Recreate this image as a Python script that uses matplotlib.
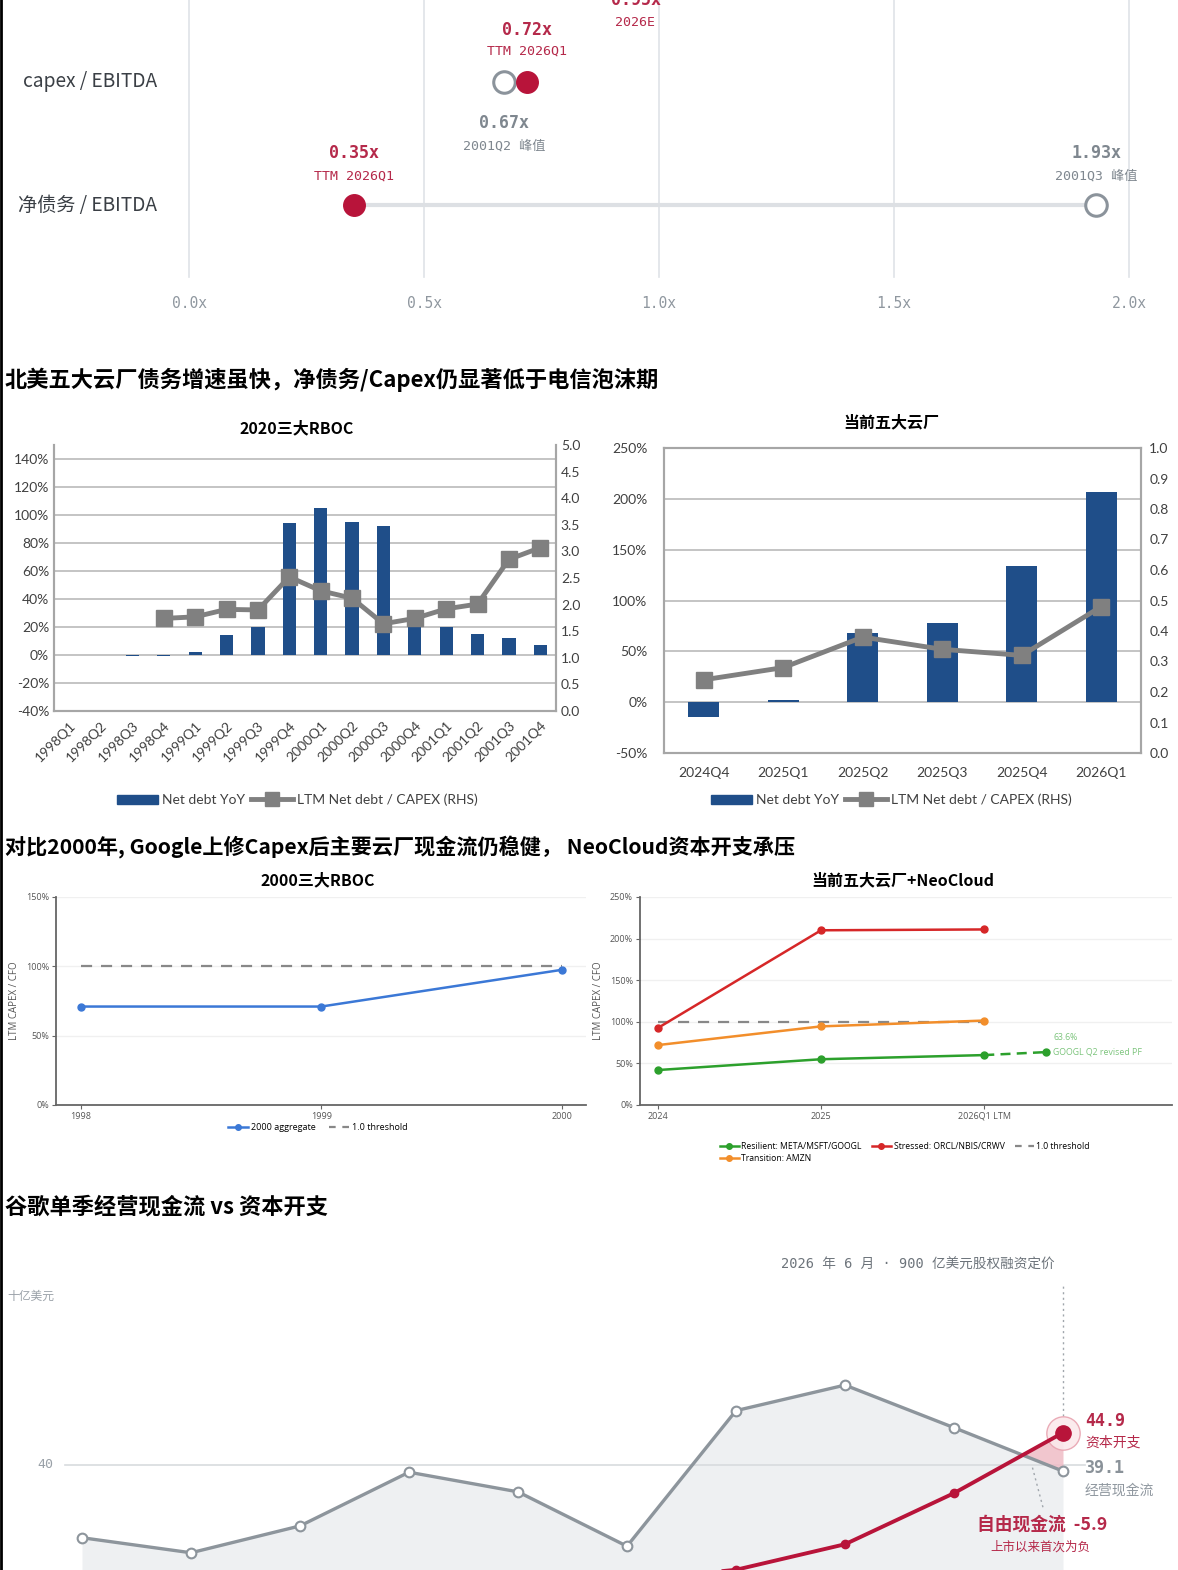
import matplotlib
matplotlib.use('Agg')
import matplotlib.pyplot as plt
import numpy as np
from matplotlib.lines import Line2D
from matplotlib.patches import Patch
from matplotlib.transforms import blended_transform_factory

# ---------------- data ----------------
# panel 1: leverage ratios
ratio_rows = ['capex / EBITDA', '净债务 / EBITDA']
ratio_now = [0.72, 0.35]
ratio_now_label = ['TTM 2026Q1', 'TTM 2026Q1']
ratio_peak = [0.67, 1.93]
ratio_peak_label = ['2001Q2 峰值', '2001Q3 峰值']
capex_ebitda_2026e = 0.95
ratio_ticks = [0.0, 0.5, 1.0, 1.5, 2.0]

# panel 2: 2020三大RBOC
rboc_q = ['1998Q1', '1998Q2', '1998Q3', '1998Q4', '1999Q1', '1999Q2', '1999Q3', '1999Q4',
          '2000Q1', '2000Q2', '2000Q3', '2000Q4', '2001Q1', '2001Q2', '2001Q3', '2001Q4']
rboc_debt_yoy = [0, 0, -0.6, -0.6, 2, 14, 20, 94, 105, 95, 92, 20, 20, 15, 12, 7]
rboc_nd_capex = [np.nan, np.nan, np.nan, 1.74, 1.77, 1.91, 1.90, 2.52, 2.26, 2.12,
                 1.64, 1.74, 1.92, 2.01, 2.85, 3.07]

# panel 3: 当前五大云厂
cloud_q = ['2024Q4', '2025Q1', '2025Q2', '2025Q3', '2025Q4', '2026Q1']
cloud_debt_yoy = [-15, 2, 68, 78, 134, 207]
cloud_nd_capex = [0.24, 0.28, 0.38, 0.34, 0.32, 0.48]

# panel 4: 2000三大RBOC capex/CFO
rboc_years = ['1998', '1999', '2000']
rboc_capex_cfo = [71, 71, 97.5]
threshold = 100

# panel 5: 当前五大云厂+NeoCloud
cloud_years = ['2024', '2025', '2026Q1 LTM']
resilient = [42, 55, 60]
transition = [72, 94.5, 101.5]
stressed = [92.5, 210, 211]
googl_pf = 63.6

# panel 6: Google quarterly OCF vs capex (USD bn)
goog_q = ['2024Q1', '2024Q2', '2024Q3', '2024Q4', '2025Q1', '2025Q2', '2025Q3', '2025Q4',
          '2026Q1', '2026Q2']
goog_ocf = [28.9, 26.6, 30.7, 38.9, 35.9, 27.6, 48.3, 52.2, 45.7, 39.06]
goog_capex = [12.0, 13.2, 13.1, 14.3, 17.2, 22.4, 24.0, 27.9, 35.7, 44.93]

# ---------------- figure ----------------
W, H = 1178, 1570
fig = plt.figure(figsize=(W / 100, H / 100), dpi=100)
CJK = ['Noto Sans CJK SC', 'DejaVu Sans']
MONO = ['DejaVu Sans Mono', 'Noto Sans CJK SC']
XL = ['Lato', 'Noto Sans CJK SC']
plt.rcParams['font.family'] = CJK


def px_axes(x0, y0, x1, y1):
    return fig.add_axes([x0 / W, 1 - y1 / H, (x1 - x0) / W, (y1 - y0) / H])


def fig_text(x, y, s, **kw):
    fig.text(x / W, 1 - y / H, s, **kw)


RED = '#b8143a'
GRAYT = '#7f878f'

# ======== panel 1 ========
ax1 = px_axes(0, 0, W, 320)
ax1.set_xlim(-189 / 470, (W - 189) / 470)
ax1.set_ylim((320 - 82) / 123, -82 / 123)
ax1.axis('off')
for t in ratio_ticks:
    ax1.axvline(t, ymin=(320 - 277) / 320, ymax=1, color='#dfe3e8', lw=1.2, zorder=0)
    ax1.text(t, 0.05, f'{t:.1f}x', transform=blended_transform_factory(ax1.transData, ax1.transAxes),
             ha='center', va='center', family=MONO, fontsize=10.5, color='#8f979f')
rows_y = np.arange(len(ratio_rows))
lab_tr = blended_transform_factory(ax1.transAxes, ax1.transData)
for i, name in enumerate(ratio_rows):
    ax1.text(157 / W, rows_y[i], name, transform=lab_tr, ha='right', va='center',
             fontsize=13.8, color='#3a3f45')
# connecting line for net debt row
ax1.plot([ratio_now[1], ratio_peak[1]], [rows_y[1], rows_y[1]], color='#dde0e4', lw=3, zorder=1)
ax1.plot(ratio_peak, rows_y, 'o', ms=15.5, mfc='white', mec='#8b939b', mew=2.2, ls='none', zorder=3)
ax1.plot(ratio_now, rows_y, 'o', ms=15.5, mfc=RED, mec=RED, ls='none', zorder=4)
# capex row labels
ax1.annotate(f'{ratio_now[0]:.2f}x', (ratio_now[0], rows_y[0]), xytext=(0, 52), textcoords='offset pixels',
             ha='center', va='center', family=MONO, fontsize=12, fontweight='bold', color='#b5294a')
ax1.annotate(ratio_now_label[0], (ratio_now[0], rows_y[0]), xytext=(0, 31), textcoords='offset pixels',
             ha='center', va='center', family=MONO, fontsize=9.5, color='#b5294a')
ax1.annotate(f'{ratio_peak[0]:.2f}x', (ratio_peak[0], rows_y[0]), xytext=(0, -41), textcoords='offset pixels',
             ha='center', va='center', family=MONO, fontsize=12, fontweight='bold', color=GRAYT)
ax1.annotate(ratio_peak_label[0], (ratio_peak[0], rows_y[0]), xytext=(0, -64), textcoords='offset pixels',
             ha='center', va='center', family=MONO, fontsize=9.5, color=GRAYT)
ax1.annotate(f'{capex_ebitda_2026e:.2f}x', (capex_ebitda_2026e, rows_y[0]), xytext=(0, 82),
             textcoords='offset pixels', ha='center', va='center', family=MONO, fontsize=12,
             fontweight='bold', color='#b5294a', annotation_clip=False)
ax1.annotate('2026E', (capex_ebitda_2026e, rows_y[0]), xytext=(0, 60), textcoords='offset pixels',
             ha='center', va='center', family=MONO, fontsize=9.5, color='#b5294a')
# net debt row labels
ax1.annotate(f'{ratio_now[1]:.2f}x', (ratio_now[1], rows_y[1]), xytext=(0, 52), textcoords='offset pixels',
             ha='center', va='center', family=MONO, fontsize=12, fontweight='bold', color='#b5294a')
ax1.annotate(ratio_now_label[1], (ratio_now[1], rows_y[1]), xytext=(0, 29), textcoords='offset pixels',
             ha='center', va='center', family=MONO, fontsize=9.5, color='#b5294a')
ax1.annotate(f'{ratio_peak[1]:.2f}x', (ratio_peak[1], rows_y[1]), xytext=(0, 52), textcoords='offset pixels',
             ha='center', va='center', family=MONO, fontsize=12, fontweight='bold', color=GRAYT)
ax1.annotate(ratio_peak_label[1], (ratio_peak[1], rows_y[1]), xytext=(0, 29), textcoords='offset pixels',
             ha='center', va='center', family=MONO, fontsize=9.5, color=GRAYT)

# ======== headings ========
fig_text(5, 380, '北美五大云厂债务增速虽快，净债务/Capex仍显著低于电信泡沫期', fontsize=16,
         fontweight='bold', va='center', ha='left', color='black')
fig_text(5, 847, '对比2000年, Google上修Capex后主要云厂现金流仍稳健， NeoCloud资本开支承压', fontsize=15.2,
         fontweight='bold', va='center', ha='left', color='black')
fig_text(5, 1207, '谷歌单季经营现金流 vs 资本开支', fontsize=16, fontweight='bold', va='center',
         ha='left', color='black')

BLUE_BAR = '#1f4e89'
LGRAY = '#808080'


def excel_style(ax, ax2, box):
    for sp in ['left', 'right', 'bottom', 'top']:
        ax.spines[sp].set_color('#a6a6a6')
        ax.spines[sp].set_linewidth(1.5)
        ax2.spines[sp].set_color('#a6a6a6')
        ax2.spines[sp].set_linewidth(1.5)
    if not box:
        ax.spines['top'].set_visible(False)
        ax2.spines['top'].set_visible(False)
    ax.tick_params(length=0, labelsize=10, labelcolor='#404040')
    ax2.tick_params(length=0, labelsize=10, labelcolor='#404040')
    for lab in ax.get_yticklabels() + ax2.get_yticklabels() + ax.get_xticklabels():
        lab.set_family(XL)


# ======== panel 2 ========
ax2 = px_axes(54, 445, 556, 711)
x2 = np.arange(len(rboc_q))
ax2.bar(x2, rboc_debt_yoy, width=0.42, color=BLUE_BAR, zorder=2)
ax2.set_ylim(-40, 150)
ax2.set_yticks(np.arange(-40, 141, 20))
ax2.set_yticklabels([f'{v}%' for v in range(-40, 141, 20)])
ax2.set_xlim(-0.5, len(rboc_q) - 0.5)
ax2.grid(axis='y', color='#bfbfbf', lw=1.3, zorder=0)
ax2.set_axisbelow(True)
ax2.set_xticks(x2)
ax2.set_xticklabels(rboc_q, rotation=45, ha='right', rotation_mode='anchor')
ax2r = ax2.twinx()
ax2r.plot(x2, rboc_nd_capex, color=LGRAY, lw=3.5, marker='s', ms=11, zorder=3)
ax2r.set_ylim(0, 5)
ax2r.set_yticks(np.arange(0, 5.01, 0.5))
ax2r.set_yticklabels([f'{v:.1f}' for v in np.arange(0, 5.01, 0.5)])
excel_style(ax2, ax2r, box=False)
ax2.tick_params(axis='x', pad=6)
fig_text(297, 428, '2020三大RBOC', fontsize=11.5, fontweight='bold', ha='center', va='center')
leg_h = [Patch(color=BLUE_BAR), Line2D([], [], color=LGRAY, lw=3.5, marker='s', ms=10)]
lg = ax2.legend(leg_h, ['Net debt YoY', 'LTM Net debt / CAPEX (RHS)'], loc='center',
                bbox_to_anchor=(297 / W, 1 - 800 / H), bbox_transform=fig.transFigure, ncol=2,
                frameon=False, handlelength=3.0, handletextpad=0.3, columnspacing=0.4,
                prop={'family': XL, 'size': 10})
for t in lg.get_texts():
    t.set_color('#404040')

# ======== panel 3 ========
ax3 = px_axes(664, 448, 1141, 753)
x3 = np.arange(len(cloud_q))
ax3.bar(x3, cloud_debt_yoy, width=0.39, color=BLUE_BAR, zorder=2)
ax3.set_ylim(-50, 250)
ax3.set_yticks(np.arange(-50, 251, 50))
ax3.set_yticklabels([f'{v}%' for v in range(-50, 251, 50)])
ax3.set_xlim(-0.5, len(cloud_q) - 0.5)
ax3.grid(axis='y', color='#bfbfbf', lw=1.3, zorder=0)
ax3.set_axisbelow(True)
ax3.set_xticks(x3)
ax3.set_xticklabels(cloud_q)
ax3r = ax3.twinx()
ax3r.plot(x3, cloud_nd_capex, color=LGRAY, lw=3.5, marker='s', ms=12, zorder=3)
ax3r.set_ylim(0, 1)
ax3r.set_yticks(np.arange(0, 1.01, 0.1))
ax3r.set_yticklabels([f'{v:.1f}' for v in np.arange(0, 1.01, 0.1)])
excel_style(ax3, ax3r, box=True)
ax3.tick_params(axis='x', pad=10)
ax3.tick_params(axis='y', pad=12)
ax3r.tick_params(axis='y', pad=6)
fig_text(891, 422, '当前五大云厂', fontsize=11.5, fontweight='bold', ha='center', va='center')
lg = ax3.legend(leg_h, ['Net debt YoY', 'LTM Net debt / CAPEX (RHS)'], loc='center',
                bbox_to_anchor=(891 / W, 1 - 800 / H), bbox_transform=fig.transFigure, ncol=2,
                frameon=False, handlelength=3.0, handletextpad=0.3, columnspacing=0.4,
                prop={'family': XL, 'size': 10})
for t in lg.get_texts():
    t.set_color('#404040')

# ======== panel 4 & 5 style ========
SMALL = ['Open Sans', 'Noto Sans CJK SC']


def light_style(ax):
    for sp in ['top', 'right']:
        ax.spines[sp].set_visible(False)
    for sp in ['left', 'bottom']:
        ax.spines[sp].set_color('#666666')
        ax.spines[sp].set_linewidth(1.3)
    ax.tick_params(length=3, width=0.8, color='#666666', labelsize=6.5, labelcolor='#555555', pad=2)
    for lab in ax.get_yticklabels() + ax.get_xticklabels():
        lab.set_family(SMALL)
    ax.grid(axis='y', color='#f0f0f0', lw=1)
    ax.set_axisbelow(True)
    ax.set_ylabel('LTM CAPEX / CFO', fontsize=7, color='#555555', family=SMALL, labelpad=4)


# ======== panel 4 ========
ax4 = px_axes(56, 897, 586, 1105)
x4 = np.arange(len(rboc_years))
ax4.plot(x4, [threshold] * len(x4), color='#888888', lw=1.6, ls=(0, (5, 4)), zorder=2)
ax4.plot(x4, rboc_capex_cfo, color='#3b78d6', lw=1.8, marker='o', ms=5, zorder=3)
ax4.set_xlim(-0.102, 2.1)
ax4.set_ylim(0, 150)
ax4.set_yticks([0, 50, 100, 150])
ax4.set_yticklabels(['0%', '50%', '100%', '150%'])
ax4.set_xticks(x4)
ax4.set_xticklabels(rboc_years)
light_style(ax4)
fig_text(318, 880, '2000三大RBOC', fontsize=11.5, fontweight='bold', ha='center', va='center')
lg = ax4.legend([Line2D([], [], color='#3b78d6', lw=1.8, marker='o', ms=4),
                 Line2D([], [], color='#888888', lw=1.6, ls=(0, (3, 3)))],
                ['2000 aggregate', '1.0 threshold'], loc='center',
                bbox_to_anchor=(318 / W, 1 - 1128 / H), bbox_transform=fig.transFigure, ncol=2,
                frameon=False, handlelength=2.2, handletextpad=0.3, columnspacing=1.5,
                prop={'family': SMALL, 'size': 6.5})

# ======== panel 5 ========
ax5 = px_axes(640, 897, 1172, 1105)
x5 = np.arange(len(cloud_years))
pf_x = x5[-1] + 0.38
C_G, C_R, C_O = '#2ca02c', '#d62728', '#f28e2b'
ax5.plot(x5, [threshold] * len(x5), color='#888888', lw=1.6, ls=(0, (5, 4)), zorder=2)
ax5.plot(x5, stressed, color=C_R, lw=1.8, marker='o', ms=5, zorder=3)
ax5.plot(x5, transition, color=C_O, lw=1.8, marker='o', ms=5, zorder=3)
ax5.plot(x5, resilient, color=C_G, lw=1.8, marker='o', ms=5, zorder=3)
ax5.plot([x5[-1], pf_x], [resilient[-1], googl_pf], color=C_G, lw=1.8, ls=(0, (4, 2.5)), zorder=3)
ax5.plot([pf_x], [googl_pf], 'o', color=C_G, ms=5, zorder=3)
ax5.annotate(f'{googl_pf:.1f}%', (pf_x, googl_pf), xytext=(7, 15), textcoords='offset pixels',
             ha='left', va='center', fontsize=6.3, color='#7cc47c', family=SMALL)
ax5.annotate('GOOGL Q2 revised PF', (pf_x, googl_pf), xytext=(7, 0), textcoords='offset pixels',
             ha='left', va='center', fontsize=6.3, color='#7cc47c', family=SMALL)
ax5.set_xlim(-0.109, 3.15)
ax5.set_ylim(0, 250)
ax5.set_yticks([0, 50, 100, 150, 200, 250])
ax5.set_yticklabels(['0%', '50%', '100%', '150%', '200%', '250%'])
ax5.set_xticks(x5)
ax5.set_xticklabels(cloud_years)
light_style(ax5)
fig_text(903, 880, '当前五大云厂+NeoCloud', fontsize=11.5, fontweight='bold', ha='center', va='center')
lg = ax5.legend([Line2D([], [], color=C_G, lw=1.8, marker='o', ms=4),
                 Line2D([], [], color=C_O, lw=1.8, marker='o', ms=4),
                 Line2D([], [], color=C_R, lw=1.8, marker='o', ms=4),
                 Line2D([], [], color='#888888', lw=1.6, ls=(0, (3, 3)))],
                ['Resilient: META/MSFT/GOOGL', 'Transition: AMZN', 'Stressed: ORCL/NBIS/CRWV',
                 '1.0 threshold'], loc='upper left',
                bbox_to_anchor=(712 / W, 1 - 1134 / H), bbox_transform=fig.transFigure, ncol=3,
                frameon=False, handlelength=2.2, handletextpad=0.3, columnspacing=1.2,
                labelspacing=0.35, prop={'family': SMALL, 'size': 6.2})

# ======== panel 6 ========
ax6 = px_axes(0, 1230, W, 1570)
x6 = np.arange(len(goog_q))
ax6.set_xlim(-82 / 109, (W - 82) / 109)
ax6.set_ylim(40 - 105 / 6.55, 40 + 235 / 6.55)
ax6.axis('off')
ocf = np.array(goog_ocf)
cpx = np.array(goog_capex)
ax6.fill_between(x6, ocf, ax6.get_ylim()[0], color='#eef0f2', zorder=1, lw=0)
ax6.fill_between(x6, ocf, cpx, where=cpx > ocf, interpolate=True, color='#efbcc6', alpha=0.85,
                 zorder=2, lw=0)
ax6.axhline(40, xmin=65 / W, xmax=1085 / W, color='#d8dbde', lw=1.2, zorder=1.5)
ax6.text(45 / W, 40, '40', transform=blended_transform_factory(ax6.transAxes, ax6.transData),
         ha='center', va='center', family=MONO, fontsize=9.5, color='#9aa1a8')
ax6.plot(x6, ocf, color='#8d959c', lw=2.4, marker='o', ms=7, mfc='white', mec='#8d959c', mew=1.5,
         zorder=3)
ax6.plot(x6, cpx, color=RED, lw=2.8, marker='o', ms=6, zorder=4)
ax6.plot(x6[-1], cpx[-1], 'o', ms=24, mfc='#fbe9ec', mec='#e8a3b0', mew=1.0, alpha=0.9, zorder=3.5)
ax6.plot(x6[-1], cpx[-1], 'o', ms=11, color=RED, zorder=5)
ax6.vlines(x6[-1], cpx[-1] + 2.6, 40 + (1465 - 1283) / 6.55, colors='#a0a6ac', lw=1,
           linestyles=(0, (1.5, 2.5)), zorder=2)
ax6.plot([8.72, 8.82], [39.6, 33.3], color='#a0a6ac', lw=1, ls=(0, (1.5, 2.5)), zorder=2)
fig_text(7, 1296, '十亿美元', fontsize=8.5, color='#9aa1a8', ha='left', va='center')
fig_text(1055, 1265, '2026 年 6 月 · 900 亿美元股权融资定价', family=MONO, fontsize=9.8,
         color='#6d747b', ha='right', va='center')
ax6.annotate(f'{cpx[-1]:.1f}', (x6[-1], cpx[-1]), xytext=(22, 12), textcoords='offset pixels',
             ha='left', va='center', family=MONO, fontsize=12, fontweight='bold', color='#b5294a')
ax6.annotate('资本开支', (x6[-1], cpx[-1]), xytext=(22, -10), textcoords='offset pixels',
             ha='left', va='center', fontsize=10, color='#b5294a')
ax6.annotate(f'{ocf[-1]:.1f}', (x6[-1], ocf[-1]), xytext=(22, 3), textcoords='offset pixels',
             ha='left', va='center', family=MONO, fontsize=12, fontweight='bold', color='#8a9299')
ax6.annotate('经营现金流', (x6[-1], ocf[-1]), xytext=(22, -19), textcoords='offset pixels',
             ha='left', va='center', fontsize=10, color='#8f979f')
fcf = ocf[-1] - cpx[-1]
fig_text(1042, 1525, f'自由现金流  {fcf:.1f}', fontsize=12.8, fontweight='bold', color='#b5294a',
         ha='center', va='center')
fig_text(1040, 1547, '上市以来首次为负', fontsize=9, color='#b5294a', ha='center', va='center')

# left border line
fig.add_artist(Line2D([1 / W, 1 / W], [0, 1], color='black', lw=2, transform=fig.transFigure))

fig.savefig('out.png', dpi=100)
